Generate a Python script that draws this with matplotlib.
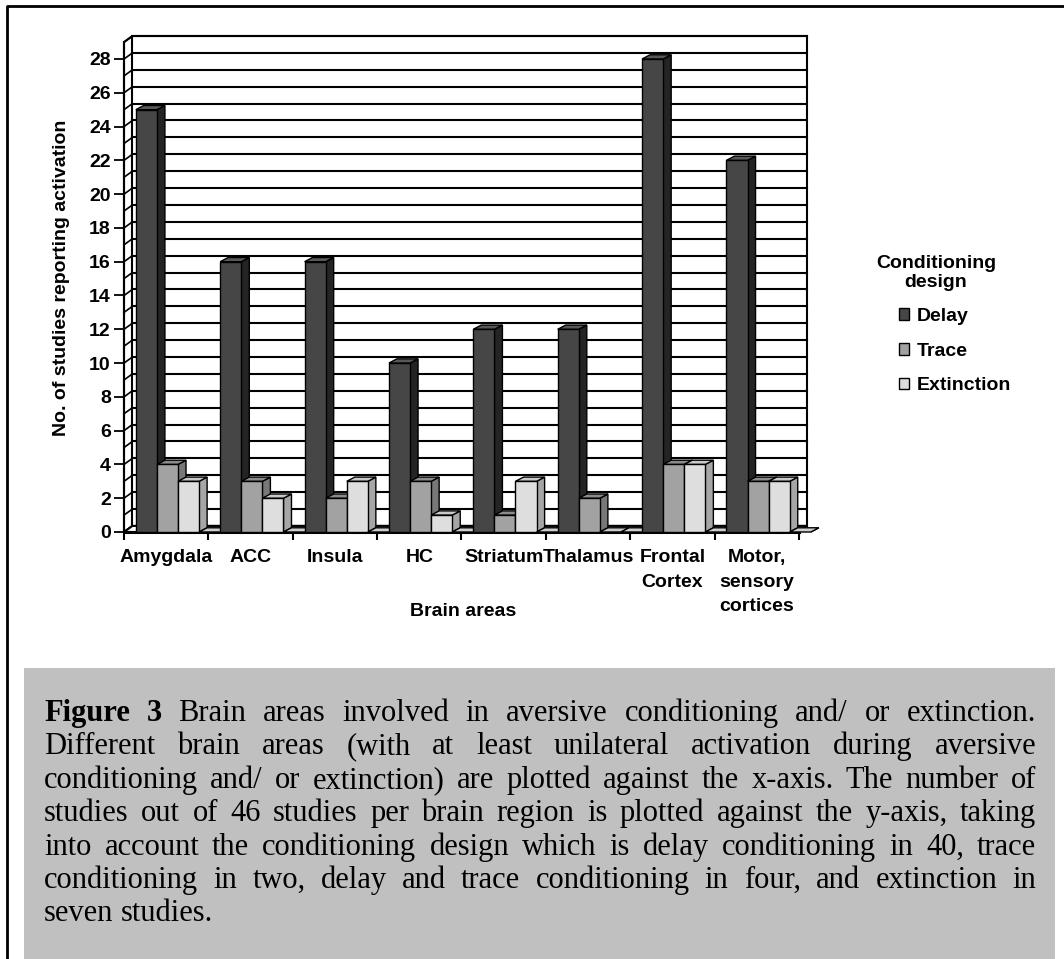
import matplotlib
matplotlib.use("Agg")
import matplotlib.pyplot as plt
from matplotlib.patches import Polygon, Rectangle, Patch
from matplotlib.lines import Line2D

plt.rcParams['font.family'] = ['Liberation Sans', 'DejaVu Sans']

# data
areas = ["Amygdala", "ACC", "Insula", "HC", "Striatum", "Thalamus",
         "Frontal\nCortex", "Motor,\nsensory\ncortices"]
delay = [25, 16, 16, 10, 12, 12, 28, 22]
trace = [4, 3, 2, 3, 1, 2, 4, 3]
extinction = [3, 2, 3, 1, 3, 0, 4, 3]
unlabelled = [0, 0, 0, 0, 0, 0, 0, 0]   # 4th (empty) series, shows as flat slabs
series_names = ["Delay", "Trace", "Extinction"]
yticks = list(range(0, 29, 2))
ymax = 29

caption_lines = [
    "Figure 3 Brain areas involved in aversive conditioning and/ or extinction.",
    "Different brain areas (with at least unilateral activation during aversive",
    "conditioning and/ or extinction) are plotted against the x-axis. The number of",
    "studies out of 46 studies per brain region is plotted against the y-axis, taking",
    "into account the conditioning design which is delay conditioning in 40, trace",
    "conditioning in two, delay and trace conditioning in four, and extinction in",
    "seven studies.",
]

# colours: front, side, top
face_cols = [("#464646", "#242424", "#585858"),
             ("#a2a2a2", "#787878", "#8c8c8c"),
             ("#dedede", "#a6a6a6", "#cacaca"),
             ("#cfcfcf", "#a0a0a0", "#cfcfcf")]

W, H = 1064, 959
fig = plt.figure(figsize=(W / 100, H / 100), dpi=100)

def fx(px):
    return px / W

def fy(py):
    return 1 - py / H

# 3D offsets in data units
wdx, wdy = 0.1, 0.36     # walls
bdx, bdy = 0.095, 0.25   # bars
xmax = 8 + wdx

# axes: front plane origin at pixel (124, 532)
ppx = (799 - 124) / 8.0
ppy = (532 - 59) / 28.0
ax_w = xmax * ppx
ax_h = (ymax + wdy) * ppy
ax = fig.add_axes([fx(124), fy(532), ax_w / W, ax_h / H])
ax.set_xlim(0, xmax)
ax.set_ylim(0, ymax + wdy)
for s in ax.spines.values():
    s.set_visible(False)
ax.patch.set_visible(False)

# walls
lw = 1.5
ax.add_patch(Polygon([(0, 0), (wdx, wdy), (wdx, ymax + wdy), (0, ymax)],
                     fc="white", ec="black", lw=lw, zorder=1, clip_on=False))
ax.add_patch(Polygon([(wdx, wdy), (xmax, wdy), (xmax, ymax + wdy), (wdx, ymax + wdy)],
                     fc="white", ec="black", lw=lw, zorder=1, clip_on=False))
for v in range(0, ymax + 1):
    ax.plot([wdx, xmax], [v + wdy, v + wdy], color="black", lw=lw, zorder=1.5, clip_on=False)
    ax.plot([0, wdx], [v, v + wdy], color="black", lw=1.2, zorder=1.5, clip_on=False)
ax.add_patch(Polygon([(0, 0), (8, 0), (xmax, wdy), (wdx, wdy)],
                     fc="white", ec="black", lw=lw, zorder=1.6, clip_on=False))
ax.plot([0, 0], [0, ymax], color="black", lw=lw, zorder=1.7, clip_on=False)
ax.plot([0, 8], [0, 0], color="black", lw=2.2, zorder=1.7, clip_on=False)


def bar3d(x0, w, h, cols, z):
    front, side, top = cols
    kw = dict(ec="black", lw=1.0, zorder=z, clip_on=False, joinstyle="miter")
    ax.add_patch(Polygon([(x0 + w, 0), (x0 + w + bdx, bdy), (x0 + w + bdx, h + bdy), (x0 + w, h)],
                         fc=side, **kw))
    ax.add_patch(Polygon([(x0, h), (x0 + w, h), (x0 + w + bdx, h + bdy), (x0 + bdx, h + bdy)],
                         fc=top, **kw))
    if h > 0:
        ax.add_patch(Polygon([(x0, 0), (x0 + w, 0), (x0 + w, h), (x0, h)], fc=front, **kw))


all_series = [delay, trace, extinction, unlabelled]
bar_w = 0.25
shift = 0.14
z = 3
for i in range(len(areas)):
    for j, ser in enumerate(all_series):
        bar3d(i + shift + j * bar_w, bar_w, ser[i], face_cols[j], z)
        z += 0.01

# y ticks
ax.set_yticks(yticks)
ax.set_yticklabels([str(t) for t in yticks], fontsize=14, fontweight="bold")
ax.tick_params(axis="y", direction="out", length=7.5, width=1.3, pad=2)

# x ticks: marks at boundaries, labels centred
ax.set_xticks([i + 0.5 for i in range(len(areas))])
ax.set_xticklabels(areas, fontsize=14, fontweight="bold", linespacing=1.55, va="top")
ax.tick_params(axis="x", length=0, pad=12.5)
ax.set_xticks(range(0, 9), minor=True)
ax.tick_params(axis="x", which="minor", direction="out", length=6, width=1.5)

fig.text(fx(62), fy(278), "No. of studies reporting activation", rotation=90,
         ha="center", va="center", fontsize=14, fontweight="bold")
fig.text(fx(463), fy(611), "Brain areas", ha="center", va="center",
         fontsize=14, fontweight="bold")

# legend
fig.text(fx(936), fy(273), "Conditioning\ndesign", ha="center", va="center",
         fontsize=14, fontweight="bold", linespacing=1.2)
handles = [Patch(fc=face_cols[k][0], ec="black", lw=1.0) for k in range(3)]
leg = ax.legend(handles, series_names,
                loc="upper left", bbox_to_anchor=(fx(889), fy(298)),
                bbox_transform=fig.transFigure, frameon=False, borderpad=0,
                prop={"weight": "bold", "size": 14},
                handlelength=0.55, handleheight=0.55, handletextpad=0.4,
                labelspacing=0.92)

# outer frame (left and top edges)
fig.add_artist(Line2D([fx(7), fx(7), 1.0], [0.0, fy(6), fy(6)],
                      transform=fig.transFigure, color="black", lw=2.0))

# caption box
fig.add_artist(Rectangle((fx(24), 0), fx(1055) - fx(24), fy(668), transform=fig.transFigure,
                         fc="#c0c0c0", ec="none", zorder=0))

renderer = fig.canvas.get_renderer()
left_px, right_px = 44, 1036
base0, step = 721, 33.4
cap_size = 22
for li, line in enumerate(caption_lines):
    words = line.split(" ")
    texts = []
    for wi, word in enumerate(words):
        bold = (li == 0 and wi < 2)
        t = fig.text(0, fy(base0 + li * step), word, fontsize=cap_size,
                     family="Liberation Serif", fontweight="bold" if bold else "normal",
                     va="baseline", ha="left")
        texts.append(t)
    widths = [t.get_window_extent(renderer).width for t in texts]
    if li < len(caption_lines) - 1 and len(words) > 1:
        gap = (right_px - left_px - sum(widths)) / (len(words) - 1)
    else:
        space = fig.text(0, 0, "a a", fontsize=cap_size, family="Liberation Serif")
        sw = space.get_window_extent(renderer).width
        a = fig.text(0, 0, "aa", fontsize=cap_size, family="Liberation Serif")
        gap = sw - a.get_window_extent(renderer).width
        space.remove()
        a.remove()
    x = left_px
    for t, w in zip(texts, widths):
        t.set_x(fx(x))
        x += w + gap

fig.savefig("out.png", dpi=100)
